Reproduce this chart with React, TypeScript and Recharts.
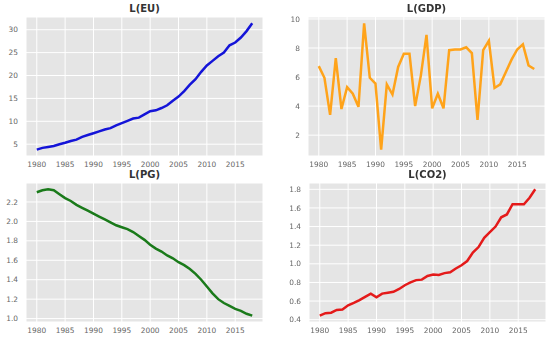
import { CartesianGrid, Line, LineChart, XAxis, YAxis } from 'recharts'

const years = [
  1980, 1981, 1982, 1983, 1984, 1985, 1986, 1987, 1988, 1989,
  1990, 1991, 1992, 1993, 1994, 1995, 1996, 1997, 1998, 1999,
  2000, 2001, 2002, 2003, 2004, 2005, 2006, 2007, 2008, 2009,
  2010, 2011, 2012, 2013, 2014, 2015, 2016, 2017, 2018,
]

const euValues = [
  3.8, 4.2, 4.4, 4.6, 5.0, 5.3, 5.7, 6.0, 6.6, 7.0,
  7.4, 7.8, 8.2, 8.5, 9.1, 9.6, 10.1, 10.6, 10.8, 11.5,
  12.2, 12.4, 12.9, 13.5, 14.5, 15.4, 16.6, 18.0, 19.2, 20.8,
  22.2, 23.2, 24.2, 25.0, 26.6, 27.2, 28.3, 29.7, 31.4,
]

const gdpValues = [
  6.75, 5.95, 3.4, 7.3, 3.8, 5.3, 4.85, 3.95, 9.7, 5.95,
  5.55, 1.0, 5.5, 4.8, 6.7, 7.6, 7.6, 4.0, 6.1, 8.9,
  3.85, 4.85, 3.85, 7.85, 7.9, 7.9, 8.05, 7.65, 3.05, 7.85,
  8.5, 5.25, 5.5, 6.35, 7.2, 7.9, 8.25, 6.8, 6.55,
]

const pgValues = [
  2.30, 2.32, 2.33, 2.32, 2.28, 2.24, 2.21, 2.17, 2.14, 2.11,
  2.08, 2.05, 2.02, 1.99, 1.96, 1.94, 1.92, 1.89, 1.85, 1.81,
  1.76, 1.72, 1.69, 1.65, 1.62, 1.58, 1.55, 1.51, 1.46, 1.40,
  1.33, 1.26, 1.20, 1.16, 1.13, 1.10, 1.08, 1.05, 1.03,
]

const co2Values = [
  0.443, 0.47, 0.475, 0.505, 0.51, 0.555, 0.58, 0.61, 0.645, 0.68,
  0.64, 0.68, 0.69, 0.70, 0.73, 0.77, 0.80, 0.825, 0.83, 0.87,
  0.885, 0.88, 0.90, 0.91, 0.95, 0.985, 1.03, 1.12, 1.18, 1.28,
  1.34, 1.40, 1.50, 1.53, 1.64, 1.64, 1.64, 1.71, 1.80,
]

const yearTicks = [1980, 1985, 1990, 1995, 2000, 2005, 2010, 2015]
const euTicks = [5, 10, 15, 20, 25, 30]
const gdpTicks = [2, 4, 6, 8, 10]
const pgTicks = [1.0, 1.2, 1.4, 1.6, 1.8, 2.0, 2.2]
const co2Ticks = [0.4, 0.6, 0.8, 1.0, 1.2, 1.4, 1.6, 1.8]

const font = 'DejaVu Sans, sans-serif'
const tickStyle = { fontSize: 7.4, fill: '#666', fontFamily: font }

// matplotlib-like 5% padding around the data range
function padded(values: number[]): [number, number] {
  const lo = Math.min(...values)
  const hi = Math.max(...values)
  const pad = (hi - lo) * 0.05
  return [lo - pad, hi + pad]
}

interface PanelProps {
  title: string
  values: number[]
  ticks: number[]
  decimals: number
  color: string
  left: number
  top: number
  height: number
  marginTop: number
}

function Panel({ title, values, ticks, decimals, color, left, top, height, marginTop }: PanelProps) {
  const data = years.map((year, i) => ({ year, value: values[i] }))
  return (
    <div style={{ position: 'absolute', left, top, width: 275, height }}>
      <div
        style={{
          position: 'absolute',
          left: 26,
          width: 237,
          top: marginTop - 14,
          textAlign: 'center',
          fontFamily: font,
          fontWeight: 'bold',
          fontSize: 10,
          color: '#333',
          lineHeight: '12px',
        }}
      >
        {title}
      </div>
      <LineChart width={275} height={height} data={data} margin={{ top: marginTop, right: 12, left: 4, bottom: 0 }}>
        <CartesianGrid stroke="#ffffff" strokeWidth={1} fill="#e5e5e5" />
        <XAxis
          dataKey="year"
          type="number"
          domain={[1978.1, 2019.9]}
          ticks={yearTicks}
          axisLine={false}
          tickLine={false}
          tickSize={0}
          tickMargin={6}
          height={height - marginTop - 139}
          tick={tickStyle}
          interval={0}
        />
        <YAxis
          type="number"
          domain={padded(values)}
          ticks={ticks}
          width={22}
          axisLine={false}
          tickLine={false}
          tickSize={0}
          tickMargin={8}
          tick={tickStyle}
          interval={0}
          tickFormatter={(v: number) => v.toFixed(decimals)}
        />
        <Line
          type="linear"
          dataKey="value"
          stroke={color}
          strokeWidth={2.5}
          dot={false}
          isAnimationActive={false}
        />
      </LineChart>
    </div>
  )
}

export default function App() {
  return (
    <div style={{ position: 'fixed', left: 0, top: 0, width: 550, height: 340, background: '#fff' }}>
      <Panel title="L(EU)" values={euValues} ticks={euTicks} decimals={0} color="#1414d8" left={0} top={0} height={170} marginTop={17} />
      <Panel title="L(GDP)" values={gdpValues} ticks={gdpTicks} decimals={0} color="#ffa31a" left={282} top={0} height={170} marginTop={17} />
      <Panel title="L(PG)" values={pgValues} ticks={pgTicks} decimals={1} color="#1a7a1a" left={0} top={165} height={175} marginTop={18} />
      <Panel title="L(CO2)" values={co2Values} ticks={co2Ticks} decimals={1} color="#e41a1a" left={283} top={165} height={175} marginTop={18} />
    </div>
  )
}
